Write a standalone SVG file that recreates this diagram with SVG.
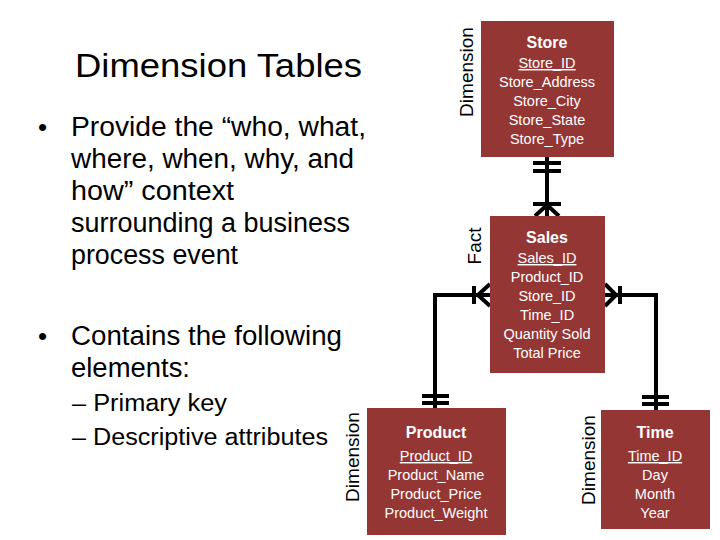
<svg xmlns="http://www.w3.org/2000/svg" width="720" height="540" viewBox="0 0 720 540">
<style>
.box{fill:#943634}
.t{font-family:"Liberation Sans",Arial,sans-serif;fill:#fff;text-anchor:middle}
.h{font-size:16px;font-weight:bold}
.a{font-size:14.5px}
.u{text-decoration:underline}
.lbl{font-family:"Liberation Sans",Arial,sans-serif;font-size:19px;fill:#000;text-anchor:middle}
.body{font-family:"Liberation Sans",Arial,sans-serif;fill:#000}
.c{stroke:#000;stroke-width:4;fill:none}
</style>
<rect width="720" height="540" fill="#fff"/>
<g id="text">
<text class="body" x="75" y="77" font-size="34" textLength="287" lengthAdjust="spacingAndGlyphs">Dimension Tables</text>
<text class="body" x="38" y="136" font-size="26">•</text>
<text class="body" x="71" y="136" font-size="27" textLength="295" lengthAdjust="spacingAndGlyphs">Provide the “who, what,</text>
<text class="body" x="71" y="168" font-size="27" textLength="283" lengthAdjust="spacingAndGlyphs">where, when, why, and</text>
<text class="body" x="71" y="200" font-size="27" textLength="163" lengthAdjust="spacingAndGlyphs">how” context</text>
<text class="body" x="71" y="232" font-size="27" textLength="279" lengthAdjust="spacingAndGlyphs">surrounding a business</text>
<text class="body" x="71" y="264" font-size="27" textLength="167" lengthAdjust="spacingAndGlyphs">process event</text>
<text class="body" x="38" y="345" font-size="26">•</text>
<text class="body" x="71" y="345" font-size="27" textLength="271" lengthAdjust="spacingAndGlyphs">Contains the following</text>
<text class="body" x="71" y="377" font-size="27" textLength="119" lengthAdjust="spacingAndGlyphs">elements:</text>
<text class="body" x="72" y="411" font-size="23" textLength="155" lengthAdjust="spacingAndGlyphs">– Primary key</text>
<text class="body" x="72" y="445" font-size="23" textLength="256" lengthAdjust="spacingAndGlyphs">– Descriptive attributes</text>
</g>
<g id="connectors">
<path class="c" d="M547 157 V216"/>
<path class="c" d="M533 163 H561 M533 171 H561"/>
<path class="c" d="M533 204 H561 M547 205 L535 216 M547 205 L559 216"/>
<path class="c" d="M490 295 H435 V408"/>
<path class="c" d="M474 286 V304 M478 295 L490 284 M478 295 L490 306"/>
<path class="c" d="M422 396 H449 M422 403 H449"/>
<path class="c" d="M605 295 H656 V410"/>
<path class="c" d="M620 286 V304 M616 295 L605 284 M616 295 L605 306"/>
<path class="c" d="M642 397 H669 M642 404 H669"/>
</g>
<g id="store">
<rect class="box" x="481" y="21" width="133" height="136"/>
<text class="t h" x="547" y="48">Store</text>
<text class="t a u" x="547" y="68">Store_ID</text>
<text class="t a" x="547" y="87">Store_Address</text>
<text class="t a" x="547" y="106">Store_City</text>
<text class="t a" x="547" y="125">Store_State</text>
<text class="t a" x="547" y="144">Store_Type</text>
<text class="lbl" transform="translate(473 72) rotate(-90)">Dimension</text>
</g>
<g id="sales">
<rect class="box" x="490" y="216" width="115" height="157"/>
<text class="t h" x="547" y="243">Sales</text>
<text class="t a u" x="547" y="263">Sales_ID</text>
<text class="t a" x="547" y="282">Product_ID</text>
<text class="t a" x="547" y="301">Store_ID</text>
<text class="t a" x="547" y="320">Time_ID</text>
<text class="t a" x="547" y="339">Quantity Sold</text>
<text class="t a" x="547" y="358">Total Price</text>
<text class="lbl" transform="translate(481 246) rotate(-90)">Fact</text>
</g>
<g id="product">
<rect class="box" x="367" y="408" width="139" height="127"/>
<text class="t h" x="436" y="438">Product</text>
<text class="t a u" x="436" y="461">Product_ID</text>
<text class="t a" x="436" y="480">Product_Name</text>
<text class="t a" x="436" y="499">Product_Price</text>
<text class="t a" x="436" y="518">Product_Weight</text>
<text class="lbl" transform="translate(359 457) rotate(-90)">Dimension</text>
</g>
<g id="time">
<rect class="box" x="601" y="410" width="109" height="119"/>
<text class="t h" x="655" y="438">Time</text>
<text class="t a u" x="655" y="461">Time_ID</text>
<text class="t a" x="655" y="480">Day</text>
<text class="t a" x="655" y="499">Month</text>
<text class="t a" x="655" y="518">Year</text>
<text class="lbl" transform="translate(595 460) rotate(-90)">Dimension</text>
</g>
</svg>
